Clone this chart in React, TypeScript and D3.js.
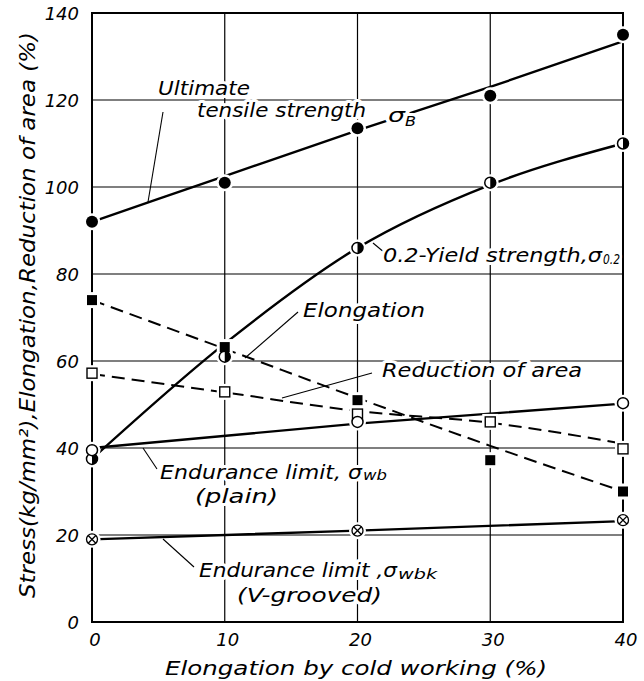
import React from 'react'
import * as d3 from 'd3'

// cold working (%) at which the specimens were tested
const coldWork = [0, 10, 20, 30, 40]
const fatigueWork = [0, 20, 40]

const utsPts = [92, 101, 113.5, 121, 135]
const yieldPts = [37.5, 61, 86, 101, 110]
const elongPts = [74, 63.2, 51, 37.2, 30]
const areaPts = [57.2, 52.9, 47.8, 46, 39.8]
const wbPts = [39.5, 46, 50.3]
const wbkPts = [19, 21, 23.4]

// faired curves drawn through the points
const utsFit = [92, 102.5, 113, 123, 133.5]
const yieldFit = [37.5, 64, 86, 100.5, 110]
const elongFit = [74, 62.8, 51.5, 40.5, 30]
const areaFit = [57, 52.8, 48.5, 45.8, 41]
const wbFit = [40, 45.6, 50.2]
const wbkFit = [19, 21, 23.2]

const xTicks = [0, 10, 20, 30, 40]
const yTicks = [0, 20, 40, 60, 80, 100, 120, 140]
const xGrid = [10, 20, 30]
const yGrid = [20, 40, 60, 80, 100, 120]

const W = 644
const H = 681
const FONT = "'DejaVu Sans', sans-serif"

const x = d3.scaleLinear().domain([0, 40]).range([92, 623])
const y = d3.scaleLinear().domain([0, 140]).range([622, 13])

const curve = d3.line<[number, number]>()
  .x(d => x(d[0]))
  .y(d => y(d[1]))
  .curve(d3.curveMonotoneX)

const zip = (xs: number[], ys: number[]) => xs.map((v, i) => [v, ys[i]] as [number, number])

const series = [
  {name: 'uts', xs: coldWork, pts: utsPts, fit: utsFit, mark: 'filled', dash: null},
  {name: 'yield', xs: coldWork, pts: yieldPts, fit: yieldFit, mark: 'half', dash: null},
  {name: 'elong', xs: coldWork, pts: elongPts, fit: elongFit, mark: 'sqFilled', dash: '13,7'},
  {name: 'area', xs: coldWork, pts: areaPts, fit: areaFit, mark: 'sqOpen', dash: '13,7'},
  {name: 'wb', xs: fatigueWork, pts: wbPts, fit: wbFit, mark: 'open', dash: null},
  {name: 'wbk', xs: fatigueWork, pts: wbkPts, fit: wbkFit, mark: 'cross', dash: null},
]

const R = 5.5

const Halo = ({cx, cy, mark}: {cx: number, cy: number, mark: string}) =>
  mark.startsWith('sq')
    ? <rect x={cx - 8} y={cy - 8} width={16} height={16} fill="white" />
    : <circle cx={cx} cy={cy} r={R + 3} fill="white" />

const Marker = ({cx, cy, mark}: {cx: number, cy: number, mark: string}) => {
  if (mark === 'filled') return <circle cx={cx} cy={cy} r={R + 0.5} fill="black" />
  if (mark === 'open') return <circle cx={cx} cy={cy} r={R} fill="white" stroke="black" strokeWidth={1.5} />
  if (mark === 'sqFilled') return <rect x={cx - 5} y={cy - 5} width={10} height={10} fill="black" />
  if (mark === 'sqOpen') return <rect x={cx - 5} y={cy - 5} width={10} height={10} fill="white" stroke="black" strokeWidth={1.4} />
  if (mark === 'half') {
    return (
      <g>
        <circle cx={cx} cy={cy} r={R} fill="white" stroke="black" strokeWidth={1.5} />
        <path d={`M${cx},${cy - R} A${R},${R} 0 0 1 ${cx},${cy + R} Z`} fill="black" />
      </g>
    )
  }
  // crossed circle
  const k = R * 0.7
  return (
    <g stroke="black" strokeWidth={1.3}>
      <circle cx={cx} cy={cy} r={R} fill="white" />
      <line x1={cx - k} y1={cy - k} x2={cx + k} y2={cy + k} />
      <line x1={cx - k} y1={cy + k} x2={cx + k} y2={cy - k} />
    </g>
  )
}

const Label = ({x0, y0, len, size = 19, children}: any) => (
  <text x={x0} y={y0} fontSize={size} textLength={len} lengthAdjust="spacingAndGlyphs"
    fontStyle="italic" fontFamily={FONT} fill="black"
    stroke="white" strokeWidth={6} strokeLinejoin="round" paintOrder="stroke">
    {children}
  </text>
)

// label leaders: [x1, y1, x2, y2]
const leaders = [
  [163, 112, 148, 202],
  [385, 253, 373, 243],
  [298, 312, 245, 358],
  [372, 373, 282, 398],
  [157, 469, 143, 448],
  [194, 567, 163, 539],
]

export default function App() {
  return (
    <svg width={W} height={H} style={{position: 'absolute', left: 0, top: 0, background: 'white'}}>
      <rect width={W} height={H} fill="white" />

      {/* grid */}
      <g stroke="black" strokeWidth={1.2}>
        {yGrid.map(v => <line key={'h' + v} x1={x(0)} x2={x(40)} y1={y(v)} y2={y(v)} />)}
        {xGrid.map(v => <line key={'v' + v} x1={x(v)} x2={x(v)} y1={y(0)} y2={y(140)} />)}
      </g>
      {/* frame */}
      <rect x={x(0)} y={y(140)} width={x(40) - x(0)} height={y(0) - y(140)} fill="none" stroke="black" strokeWidth={2} />

      {/* curves */}
      {series.map(s => (
        <path key={s.name} d={curve(zip(s.xs, s.fit)) || ''} fill="none" stroke="black"
          strokeWidth={s.dash ? 2 : 2.4} strokeDasharray={s.dash || undefined} />
      ))}

      {/* leaders */}
      <g stroke="black" strokeWidth={1.1}>
        {leaders.map((l, i) => <line key={i} x1={l[0]} y1={l[1]} x2={l[2]} y2={l[3]} />)}
      </g>

      {/* markers */}
      {series.map(s => s.xs.map((v, i) => <Halo key={s.name + 'h' + i} cx={x(v)} cy={y(s.pts[i])} mark={s.mark} />))}
      {series.map(s => s.xs.map((v, i) => <Marker key={s.name + 'm' + i} cx={x(v)} cy={y(s.pts[i])} mark={s.mark} />))}

      {/* curve labels */}
      <Label x0={158} y0={95} len={92}>Ultimate</Label>
      <Label x0={197} y0={117} len={169}>tensile strength</Label>
      <Label x0={388} y0={122} len={17} size={20}>σ</Label>
      <Label x0={405} y0={126} len={11} size={14}>B</Label>

      <Label x0={383} y0={262} len={219}>0.2-Yield strength,σ</Label>
      <Label x0={603} y0={264} len={17} size={14}>0.2</Label>

      <Label x0={303} y0={317} len={122}>Elongation</Label>
      <Label x0={382} y0={377} len={200}>Reduction of area</Label>

      <Label x0={160} y0={479} len={202}>Endurance limit, σ</Label>
      <Label x0={363} y0={480} len={24} size={14}>wb</Label>
      <Label x0={195} y0={503} len={83}>(plain)</Label>

      <Label x0={199} y0={577} len={198}>Endurance limit ,σ</Label>
      <Label x0={398} y0={579} len={39} size={14}>wbk</Label>
      <Label x0={237} y0={602} len={145}>(V-grooved)</Label>

      {/* tick labels */}
      <g fontFamily={FONT} fontStyle="italic" fontSize={18} fill="black">
        {yTicks.map(v => (
          <text key={'yt' + v} x={79} y={y(v) + 6.5} textAnchor="end">{v}</text>
        ))}
        {xTicks.map(v => (
          <text key={'xt' + v} x={x(v) + 3} y={646} textAnchor="middle">{v}</text>
        ))}
      </g>

      {/* axis titles */}
      <text x={356} y={675} textAnchor="middle" fontSize={20} fontStyle="italic" fontFamily={FONT}
        textLength={382} lengthAdjust="spacingAndGlyphs">Elongation by cold working (%)</text>
      <text transform="translate(35,315) rotate(-90)" textAnchor="middle" fontSize={21} fontStyle="italic"
        fontFamily={FONT} textLength={566} lengthAdjust="spacingAndGlyphs">
        Stress(kg/mm²),Elongation,Reduction of area (%)
      </text>
    </svg>
  )
}
